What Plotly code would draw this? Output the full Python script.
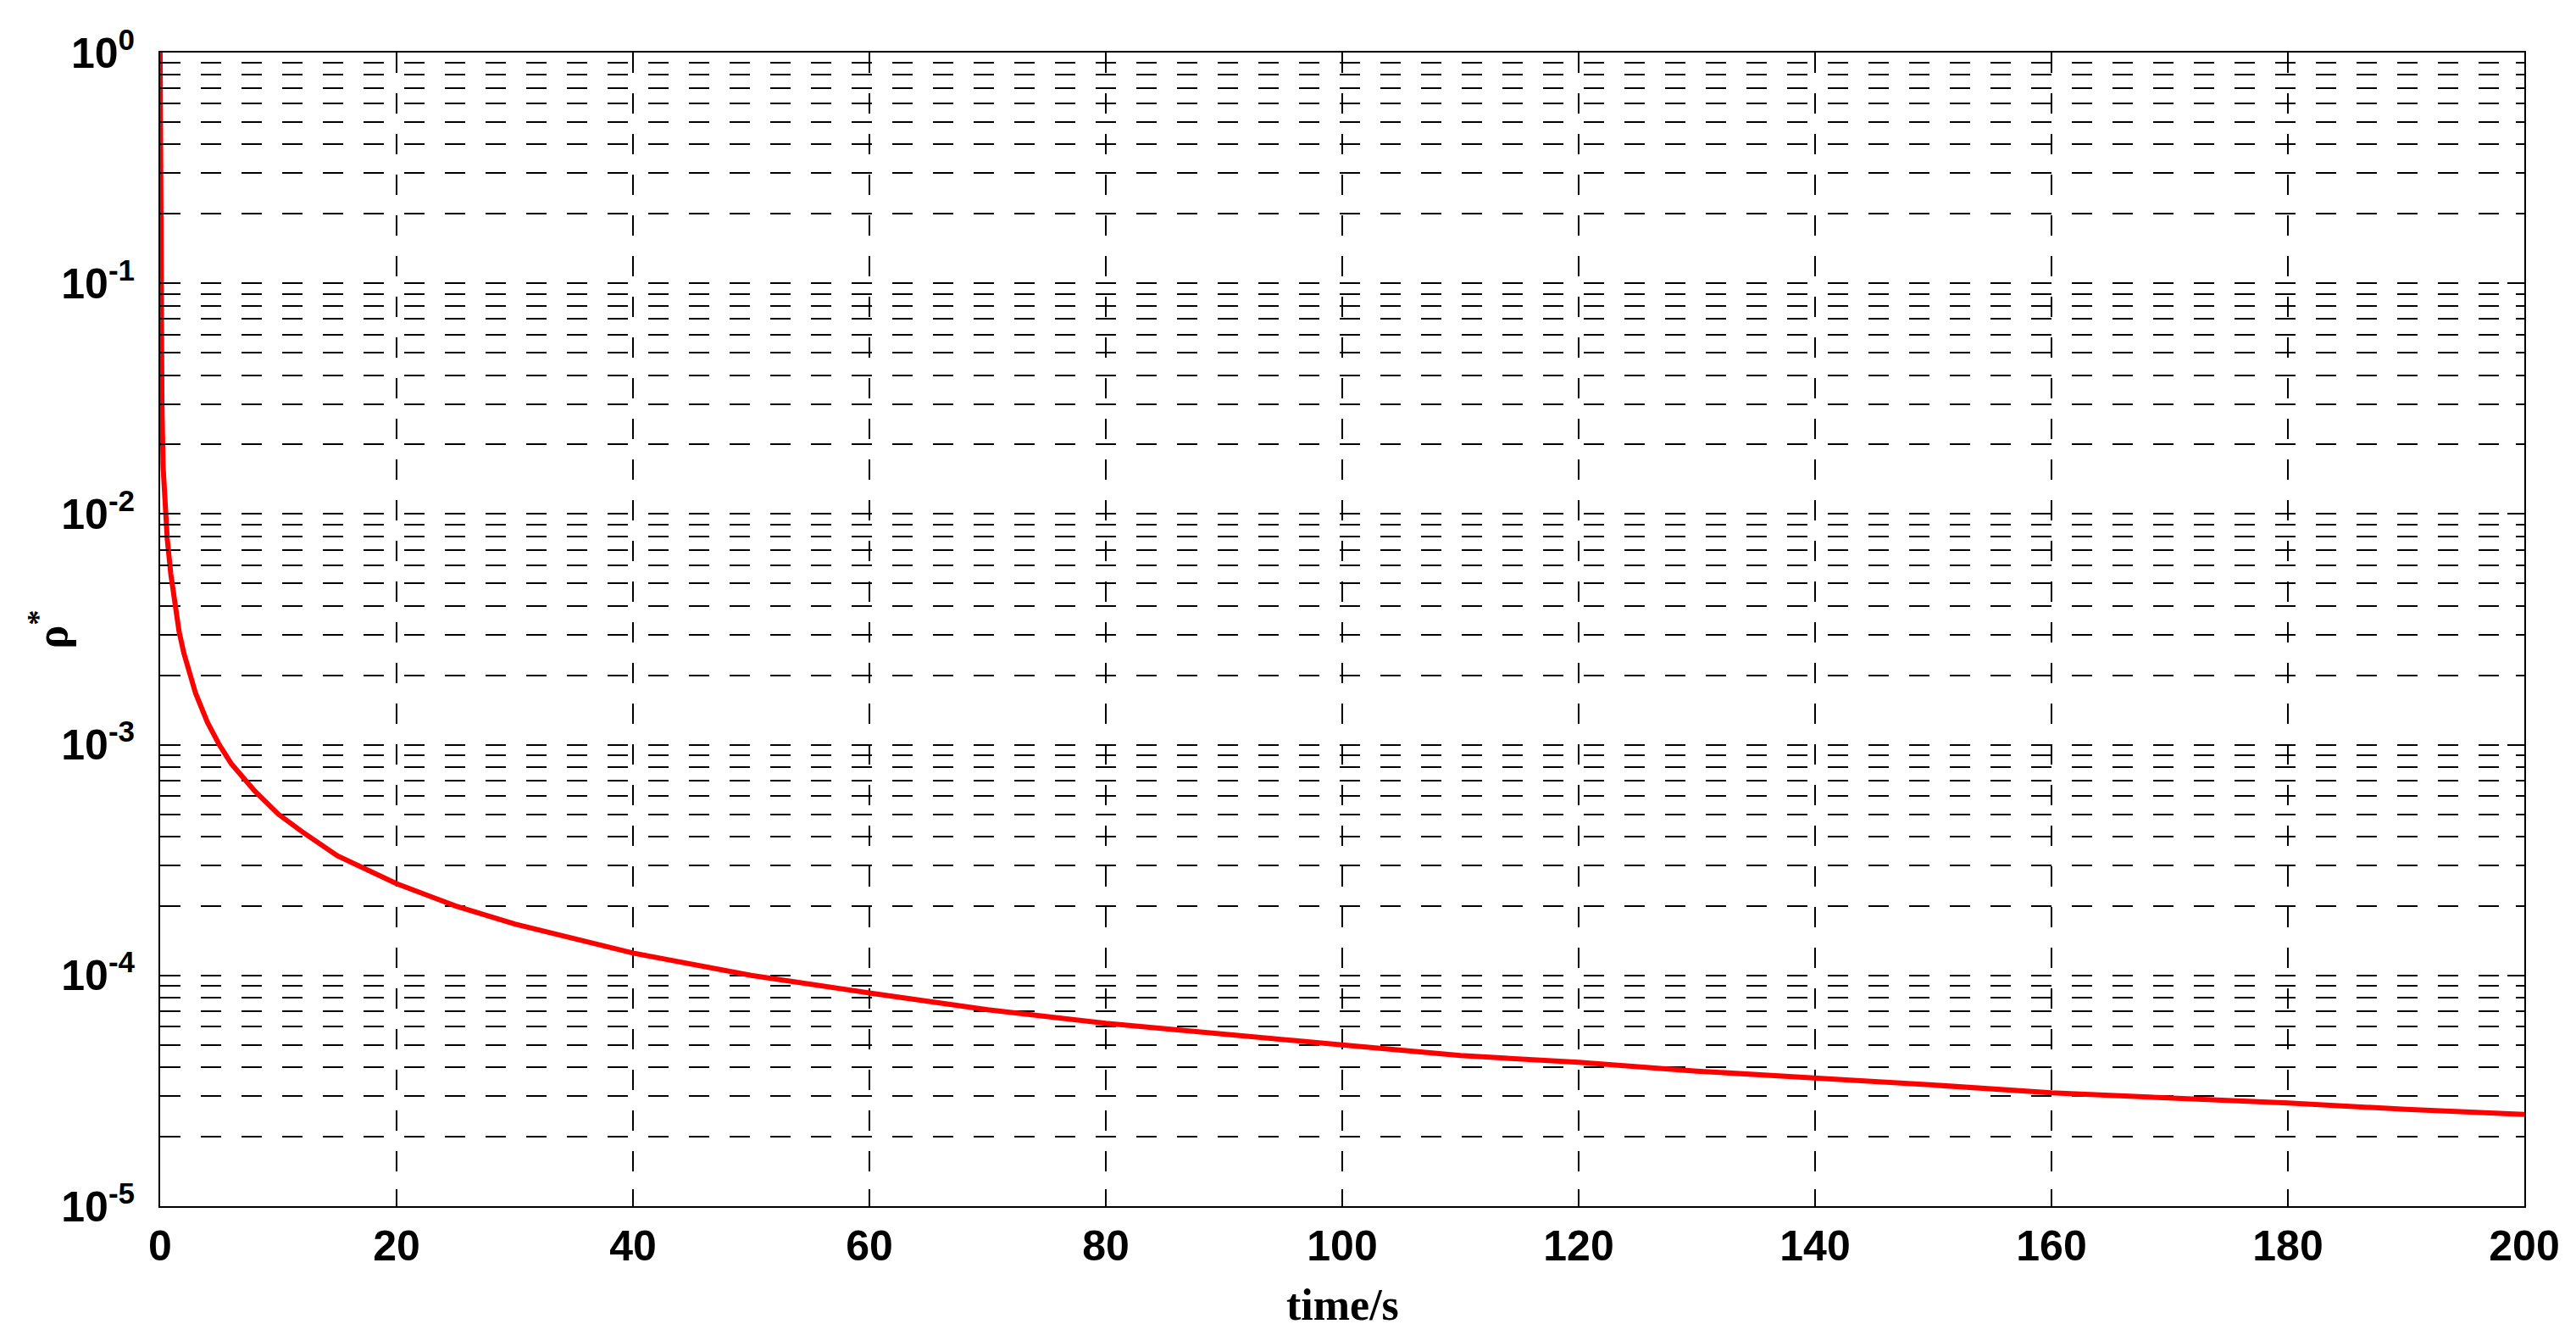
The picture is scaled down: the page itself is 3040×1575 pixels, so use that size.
import plotly.graph_objects as go

# data
time_s = [0, 0.02, 0.05, 0.1, 0.15, 0.25, 0.4, 0.6, 0.9, 1.2, 1.6, 2, 2.5, 3, 4, 5, 6, 8, 10,
          12, 15, 20, 25, 30, 40, 50, 60, 70, 80, 90, 100, 110, 120, 130, 140, 150,
          160, 170, 180, 190, 200]
rho_star = [1.0, 0.2, 0.08, 0.045, 0.03, 0.016, 0.011, 0.0078, 0.0055, 0.0042, 0.0031, 0.0025,
            0.002, 0.00167, 0.00125, 0.001, 0.00083, 0.00063, 0.0005, 0.00042, 0.00033,
            0.00025, 0.0002, 0.000167, 0.000125, 0.0001, 8.4e-5, 7.1e-5, 6.2e-5, 5.6e-5,
            5.0e-5, 4.5e-5, 4.2e-5, 3.85e-5, 3.6e-5, 3.35e-5, 3.1e-5, 2.95e-5, 2.8e-5,
            2.63e-5, 2.5e-5]

x_ticks = [0, 20, 40, 60, 80, 100, 120, 140, 160, 180, 200]
y_ticks = [1e-5, 1e-4, 1e-3, 1e-2, 1e-1, 1e0]
y_ticktext = ["10<sup>-5</sup>", "10<sup>-4</sup>", "10<sup>-3</sup>",
              "10<sup>-2</sup>", "10<sup>-1</sup>", "10<sup>0</sup>"]
y_minor = [k * 10.0 ** e for e in range(-5, 0) for k in range(2, 10)]

W, H = 3040, 1575
# the page body adds an 8px offset; margins compensate so the plot sits at 189..2979 x 62..1423
L, R, T, B = 181, 69, 54, 160

fig = go.Figure()
fig.add_trace(go.Scatter(x=time_s, y=rho_star, mode="lines",
                         line=dict(color="#ff0000", width=6), showlegend=False))

tickfont = dict(family="Liberation Sans, Arial, sans-serif", size=50, color="black", weight="bold")
dash = "24px,24px"

fig.update_layout(
    width=W, height=H,
    margin=dict(l=L, r=R, t=T, b=B, pad=0),
    paper_bgcolor="white", plot_bgcolor="white",
    xaxis=dict(
        range=[0, 200], tickmode="array", tickvals=x_ticks,
        ticks="inside", ticklen=20, tickwidth=1.5, tickcolor="black",
        showline=True, linecolor="black", linewidth=2, mirror="ticks",
        showgrid=True, gridcolor="black", gridwidth=1.5, griddash=dash,
        zeroline=False, tickfont=tickfont, ticklabelstandoff=2,
    ),
    yaxis=dict(
        type="log", range=[-5, 0], tickmode="array", tickvals=y_ticks, ticktext=y_ticktext,
        ticks="inside", ticklen=20, tickwidth=1.5, tickcolor="black",
        showline=True, linecolor="black", linewidth=2, mirror="ticks",
        showgrid=True, gridcolor="black", gridwidth=2, griddash=dash,
        zeroline=False, tickfont=tickfont, ticklabelstandoff=18,
        minor=dict(tickmode="array", tickvals=y_minor, ticks="inside", ticklen=10,
                   tickcolor="black", showgrid=True, gridcolor="black",
                   gridwidth=1.5, griddash=dash),
    ),
    annotations=[
        dict(text="<b>time/s</b>", xref="paper", yref="paper", x=0.5, y=-(1540 - 1423) / (1423 - 62),
             xanchor="center", yanchor="middle", showarrow=False,
             font=dict(family="Liberation Serif, Times New Roman, serif", size=52, color="black")),
        dict(text="<b>ρ<sup>*</sup></b>", xref="paper", yref="paper",
             x=(58 - 189) / (2979 - 189), y=0.5, xanchor="center", yanchor="middle",
             textangle=-90, showarrow=False,
             font=dict(family="Liberation Serif, Times New Roman, serif", size=52, color="black")),
    ],
)

fig.write_html("out.html")
